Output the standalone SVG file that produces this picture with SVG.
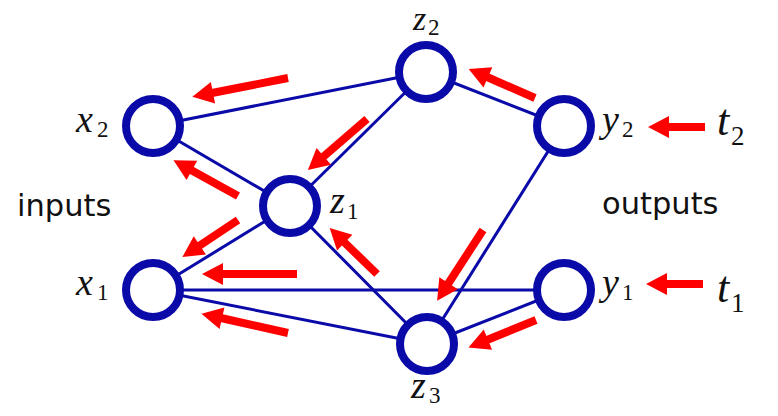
<svg xmlns="http://www.w3.org/2000/svg" width="778" height="416" viewBox="0 0 778 416">
<defs>
<marker id="ah" markerUnits="userSpaceOnUse" markerWidth="24" markerHeight="24" viewBox="0 -12 22 24" refX="1" refY="0" orient="auto">
<path d="M0,-11 L21,0 L0,11 z" fill="#ff0000"/>
</marker>
<style>
.edge{stroke:#0a0aa8;stroke-width:3;fill:none}
.node{fill:#ffffff;stroke:#0a0aa8;stroke-width:8}
.arr{stroke:#ff0000;stroke-width:8;fill:none;marker-end:url(#ah)}
.m{font-family:"Liberation Serif",serif;font-style:italic;font-size:38px;fill:#111}
.s{font-family:"Liberation Serif",serif;font-style:normal;font-size:23px}
.t{font-family:"Liberation Serif",serif;font-style:italic;font-size:44px;fill:#111}
.ts{font-family:"Liberation Serif",serif;font-style:normal;font-size:27px}
.lab{font-family:"DejaVu Sans",sans-serif;font-size:30.5px;fill:#111}
</style>
</defs>
<g id="connectors">
<line class="edge" x1="153" y1="126" x2="426" y2="72"/>
<line class="edge" x1="153" y1="126" x2="290" y2="206"/>
<line class="edge" x1="290" y1="206" x2="426" y2="72"/>
<line class="edge" x1="290" y1="206" x2="153" y2="290"/>
<line class="edge" x1="290" y1="206" x2="427" y2="344"/>
<line class="edge" x1="426" y1="72" x2="564" y2="126"/>
<line class="edge" x1="564" y1="126" x2="427" y2="344"/>
<line class="edge" x1="153" y1="290" x2="564" y2="290"/>
<line class="edge" x1="153" y1="290" x2="427" y2="344"/>
<line class="edge" x1="427" y1="344" x2="564" y2="290"/>
</g>
<g id="arrows">
<line class="arr" x1="288" y1="78" x2="212" y2="93"/>
<line class="arr" x1="238" y1="196" x2="191" y2="170"/>
<line class="arr" x1="367" y1="119" x2="323" y2="157"/>
<line class="arr" x1="535" y1="98" x2="487" y2="77"/>
<line class="arr" x1="238" y1="220" x2="199" y2="246"/>
<line class="arr" x1="297" y1="274" x2="222" y2="274"/>
<line class="arr" x1="288" y1="333" x2="221" y2="318"/>
<line class="arr" x1="377" y1="274" x2="344" y2="242"/>
<line class="arr" x1="483" y1="230" x2="448" y2="284"/>
<line class="arr" x1="536" y1="320" x2="487" y2="340"/>
<line class="arr" x1="705" y1="127" x2="668" y2="127"/>
<line class="arr" x1="703" y1="284" x2="666" y2="284"/>
</g>
<g id="x2"><circle class="node" cx="153" cy="126" r="27"/><text class="m" x="76" y="132">x<tspan class="s" x="97" y="137">2</tspan></text></g>
<g id="x1"><circle class="node" cx="153" cy="290" r="27"/><text class="m" x="76" y="295">x<tspan class="s" x="97" y="300">1</tspan></text></g>
<g id="z1"><circle class="node" cx="290" cy="206" r="27"/><text class="m" x="330" y="213">z<tspan class="s" x="347" y="219">1</tspan></text></g>
<g id="z2"><circle class="node" cx="426" cy="72" r="27"/><text class="m" x="413" y="30" style="font-size:34px">z<tspan class="s" x="428" y="35">2</tspan></text></g>
<g id="z3"><circle class="node" cx="427" cy="344" r="27"/><text class="m" x="411" y="398">z<tspan class="s" x="429" y="403">3</tspan></text></g>
<g id="y2"><circle class="node" cx="564" cy="126" r="27"/><text class="m" x="602" y="132">y<tspan class="s" x="622" y="137">2</tspan></text></g>
<g id="y1"><circle class="node" cx="564" cy="290" r="27"/><text class="m" x="602" y="295">y<tspan class="s" x="622" y="300">1</tspan></text></g>
<g id="t2"><text class="t" x="717" y="135">t<tspan class="ts" x="731" y="145">2</tspan></text></g>
<g id="t1"><text class="t" x="717" y="302">t<tspan class="ts" x="731" y="312">1</tspan></text></g>
<text class="lab" x="17" y="216">inputs</text>
<text class="lab" x="602" y="214">outputs</text>
</svg>
